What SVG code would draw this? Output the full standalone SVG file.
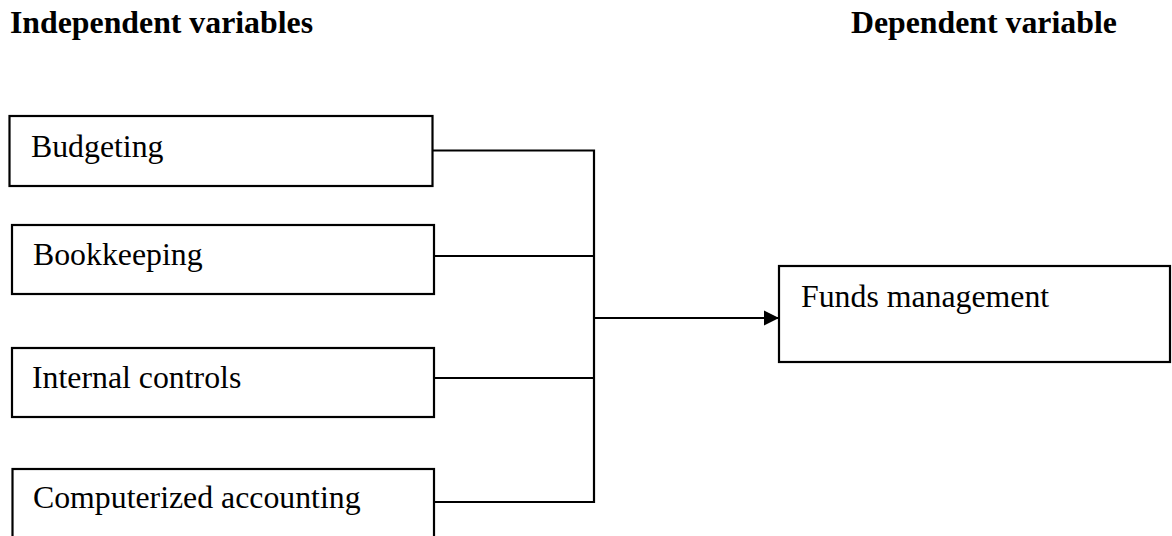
<svg xmlns="http://www.w3.org/2000/svg" width="1172" height="536" viewBox="0 0 1172 536">
<style>
.box{fill:#fff;stroke:#000;stroke-width:2.2}
.t{font-family:"Liberation Serif","Times New Roman",serif;font-size:31.8px;fill:#000}
.h{font-family:"Liberation Serif","Times New Roman",serif;font-size:31.8px;font-weight:bold;fill:#000}
.c{fill:none;stroke:#000;stroke-width:2.2}
</style>
<defs>
<marker id="arr" markerUnits="userSpaceOnUse" markerWidth="16" markerHeight="16" refX="15" refY="8" orient="auto">
<path d="M0,0.5 L15,8 L0,15.5 Z" fill="#000"/>
</marker>
</defs>
<g id="headings">
<text class="h" x="10" y="33">Independent variables</text>
<text class="h" x="851" y="33">Dependent variable</text>
</g>
<g id="budgeting">
<rect class="box" x="9.5" y="116" width="423" height="70"/>
<text class="t" x="31" y="157">Budgeting</text>
</g>
<g id="bookkeeping">
<rect class="box" x="12" y="225" width="422" height="69"/>
<text class="t" x="33" y="265">Bookkeeping</text>
</g>
<g id="internal-controls">
<rect class="box" x="12" y="348" width="422" height="69"/>
<text class="t" x="32" y="388">Internal controls</text>
</g>
<g id="computerized-accounting">
<rect class="box" x="12.5" y="469" width="421.5" height="80"/>
<text class="t" x="33" y="508">Computerized accounting</text>
</g>
<g id="funds-management">
<rect class="box" x="779" y="266" width="391" height="96"/>
<text class="t" x="801" y="307">Funds management</text>
</g>
<g id="connectors">
<path class="c" d="M432.5,150.5 H594 M434,256 H594 M434,378 H594 M434,502 H594 M594,149.5 V503"/>
<path class="c" d="M594,318 H779" marker-end="url(#arr)"/>
</g>
</svg>
